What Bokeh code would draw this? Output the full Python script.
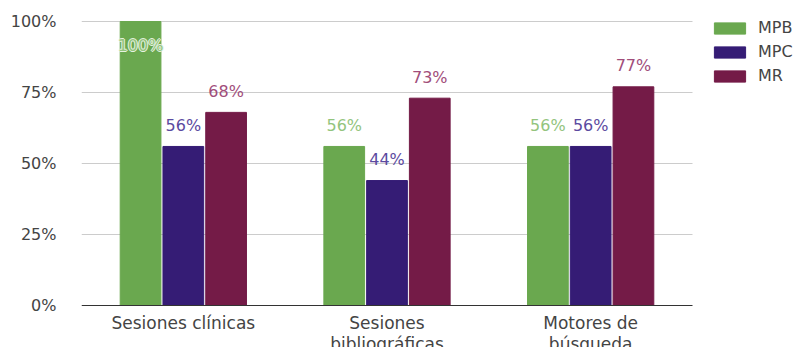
from bokeh.plotting import figure
from bokeh.models import Range1d, FixedTicker, PrintfTickFormatter, Legend, LegendItem
from bokeh.core.properties import value
from bokeh.embed import file_html
from bokeh.resources import INLINE

categories = ["Sesiones clínicas", "Sesiones\nbibliográficas", "Motores de\nbúsqueda"]
series = ["MPB", "MPC", "MR"]
mpb = [100, 56, 56]
mpc = [56, 44, 56]
mr = [68, 73, 77]
y_ticks = [0, 25, 50, 75, 100]

bar_colors = ["#6aa84f", "#351c75", "#741b47"]
label_colors = ["#93c47d", "#5b4aa0", "#a14d7a"]
FONT = "DejaVu Sans"

W, H = 806, 347
LEFT = 81            # plot-area left edge (px)
PLOT_W = 611         # plot-area width for the 3 categories (px)
PLOT_H = 284         # height of 0..100 (px)
TOP = 21
BOTTOM = H - TOP - PLOT_H   # room below the baseline (px)

n = len(categories)
ux = PLOT_W / n             # px per category
uy = PLOT_H / 100.0         # px per percent

p = figure(width=W, height=H, output_backend="svg", toolbar_location=None,
           x_range=Range1d(0, n + (W - LEFT - PLOT_W) / ux),
           y_range=Range1d(-BOTTOM / uy, 100 + TOP / uy),
           min_border_left=LEFT, min_border_right=0, min_border_top=0, min_border_bottom=0)
p.outline_line_color = None
p.xgrid.visible = False
p.ygrid.visible = False
p.xaxis.visible = False

p.yaxis.ticker = FixedTicker(ticks=y_ticks)
p.yaxis.formatter = PrintfTickFormatter(format="%d%%")
p.yaxis.axis_line_color = None
p.yaxis.major_tick_line_color = None
p.yaxis.minor_tick_line_color = None
p.yaxis.major_label_text_font = FONT
p.yaxis.major_label_text_font_size = "16px"
p.yaxis.major_label_text_color = "#444444"
p.yaxis.major_label_standoff = 19

# horizontal grid lines over the category area only
gl = [t for t in y_ticks if t > 0]
p.segment(x0=[0] * len(gl), x1=[n] * len(gl), y0=gl, y1=gl, line_color="#cccccc", line_width=1)

offsets = [-0.21, 0.0, 0.21]
centers = [i + 0.5 for i in range(n)]
renderers = []
for s, off, c, vals in zip(series, offsets, bar_colors, [mpb, mpc, mr]):
    r = p.vbar(x=[cx + off for cx in centers], top=vals, width=0.2,
               fill_color=c, line_color=c)
    renderers.append(r)

# baseline (x axis line)
p.segment(x0=[0], x1=[n], y0=[0], y1=[0], line_color="#333333", line_width=1)

# category labels
p.text(x=centers, y=[0] * n, text=categories, text_align="center", text_baseline="top",
       y_offset=7, text_font=value(FONT), text_font_size="17px", text_color="#444444",
       text_line_height=1.05)

# data labels
for s, off, lc, vals in zip(series, offsets, label_colors, [mpb, mpc, mr]):
    out_idx = [i for i, v in enumerate(vals) if v < 90]
    in_idx = [i for i, v in enumerate(vals) if v >= 90]
    if out_idx:
        p.text(x=[centers[i] + off for i in out_idx], y=[vals[i] for i in out_idx],
               text=[f"{vals[i]}%" for i in out_idx],
               text_align="center", text_baseline="alphabetic", y_offset=-21,
               text_font=value(FONT), text_font_size="16px", text_color=lc)
    if in_idx:
        xs = [centers[i] + off for i in in_idx]
        ys = [vals[i] for i in in_idx]
        ts = [f"{vals[i]}%" for i in in_idx]
        for dx, dy in [(-1, 0), (1, 0), (0, -1), (0, 1)]:
            p.text(x=xs, y=ys, text=ts, text_align="center", text_baseline="alphabetic",
                   x_offset=dx, y_offset=24 + dy,
                   text_font=value(FONT), text_font_size="16px", text_color="#e6f2e0")
        p.text(x=xs, y=ys, text=ts, text_align="center", text_baseline="alphabetic",
               y_offset=24, text_font=value(FONT), text_font_size="16px", text_color=lc)

legend = Legend(items=[LegendItem(label=s, renderers=[r]) for s, r in zip(series, renderers)],
                location=(629, 262), orientation="vertical",
                glyph_width=39, glyph_height=14, label_height=14, spacing=5,
                padding=0, margin=0, label_standoff=9,
                label_text_font=FONT, label_text_font_size="16px", label_text_color="#444444",
                border_line_color=None, background_fill_alpha=0)
p.add_layout(legend, "center")

open("out.html", "w").write(file_html(p, INLINE))
